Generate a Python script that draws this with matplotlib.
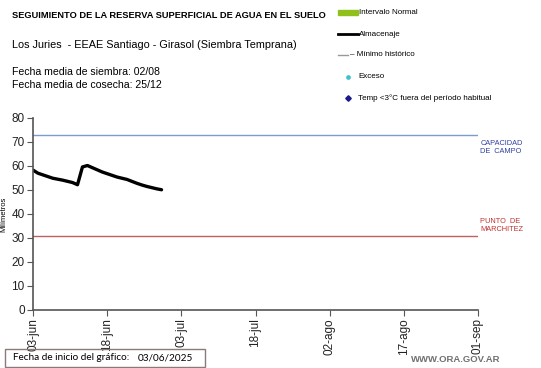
import numpy as np
import pandas as pd
import matplotlib
matplotlib.use("Agg")
import matplotlib.pyplot as plt
from matplotlib.lines import Line2D
from matplotlib.patches import Rectangle

plt.rcParams['font.family'] = ['Liberation Sans', 'DejaVu Sans']

# data
start = "2025-06-03"
almacenaje = [58.3, 57.0, 56.3, 55.6, 54.9, 54.5, 54.1, 53.6, 53.1, 52.2,
              59.6, 60.2, 59.3, 58.4, 57.5, 56.8, 56.1, 55.4, 54.9, 54.4,
              53.6, 52.8, 52.1, 51.5, 51.0, 50.5, 50.1]
capacidad_campo = 73
punto_marchitez = 31
tick_dates = ["2025-06-03", "2025-06-18", "2025-07-03", "2025-07-18",
              "2025-08-02", "2025-08-17", "2025-09-01"]
tick_labels = ["03-jun", "18-jun", "03-jul", "18-jul", "02-ago", "17-ago", "01-sep"]

dates = pd.date_range(start, periods=len(almacenaje), freq="D")
W, H = 541, 368
fig = plt.figure(figsize=(W / 100, H / 100), dpi=100)
ax = fig.add_axes([33 / W, 1 - 310 / H, (478 - 33) / W, (310 - 118) / H])

ax.axhline(capacidad_campo, color='#7f9ad0', lw=1)
ax.axhline(punto_marchitez, color='#c06060', lw=1)
ax.plot(dates, almacenaje, color='black', lw=2.4, solid_capstyle='round',
        solid_joinstyle='round')

ax.set_ylim(0, 80)
ax.set_yticks(range(0, 81, 10))
tks = pd.to_datetime(tick_dates)
ax.set_xlim(tks[0], tks[-1])
ax.set_xticks(tks)
ax.set_xticklabels(tick_labels, rotation=90)
for s in ['top', 'right']:
    ax.spines[s].set_visible(False)
for s in ['left', 'bottom']:
    ax.spines[s].set_color('#555555')
    ax.spines[s].set_linewidth(1.2)
ax.tick_params(direction='out', length=4, color='#555555', labelsize=8.5, pad=2,
               labelcolor='#222222')
ax.set_ylabel("Milímetros", fontsize=5.5)
ax.yaxis.set_label_coords(-26 / 445, 0.5)

ax.text(1.005, 71, "CAPACIDAD\nDE  CAMPO", transform=ax.get_yaxis_transform(),
        fontsize=5.3, color='#3040a0', va='top', ha='left', linespacing=1.35)
ax.text(1.005, 38.5, "PUNTO  DE\nMARCHITEZ", transform=ax.get_yaxis_transform(),
        fontsize=5.3, color='#c03030', va='top', ha='left', linespacing=1.35)

# header texts
fig.text(12 / W, 1 - 16 / H, "SEGUIMIENTO DE LA RESERVA SUPERFICIAL DE AGUA EN EL SUELO",
         fontsize=6.7, fontweight='bold', va='center')
fig.text(12 / W, 1 - 45 / H, "Los Juries  - EEAE Santiago - Girasol (Siembra Temprana)",
         fontsize=7.8, va='center')
fig.text(12 / W, 1 - 72 / H, "Fecha media de siembra: 02/08", fontsize=7.6, va='center')
fig.text(12 / W, 1 - 85 / H, "Fecha media de cosecha: 25/12", fontsize=7.6, va='center')

# legend
fig.patches.append(Rectangle((338 / W, 1 - 15 / H), 20 / W, 5 / H,
                             transform=fig.transFigure, color='#92c01a'))
fig.lines.append(Line2D([338 / W, 358 / W], [1 - 34 / H] * 2, transform=fig.transFigure,
                        color='black', lw=2))
fig.lines.append(Line2D([338 / W, 348 / W], [1 - 55 / H] * 2, transform=fig.transFigure,
                        color='#999999', lw=1))
fig.lines.append(Line2D([348 / W], [1 - 77 / H], transform=fig.transFigure,
                        color='#40c0d0', marker='o', ms=2.4, lw=0))
fig.lines.append(Line2D([348 / W], [1 - 98 / H], transform=fig.transFigure,
                        color='#1a1a8a', marker='D', ms=2.8, lw=0))
fig.text(359 / W, 1 - 12 / H, "Intervalo Normal", fontsize=5.8, va='center')
fig.text(359 / W, 1 - 34 / H, "Almacenaje", fontsize=5.8, va='center')
fig.text(350 / W, 1 - 55 / H, "– Mínimo histórico", fontsize=5.8, va='center')
fig.text(358 / W, 1 - 77 / H, "Exceso", fontsize=5.8, va='center')
fig.text(358 / W, 1 - 98 / H, "Temp <3°C fuera del período habitual", fontsize=5.8, va='center')

# footer
fig.patches.append(Rectangle((5 / W, 1 - 367 / H), 200 / W, 18 / H, transform=fig.transFigure,
                             fill=False, edgecolor='#8a7a7a', lw=1))
fig.text(13 / W, 1 - 358 / H, "Fecha de inicio del gráfico:", fontsize=7.2, va='center',
         family=['Lato', 'DejaVu Sans'])
fig.text(138 / W, 1 - 358 / H, "03/06/2025", fontsize=7.2, va='center',
         family=['Lato', 'DejaVu Sans'])
fig.text(500 / W, 1 - 360 / H, "WWW.ORA.GOV.AR", fontsize=6.8, fontweight='bold',
         color='#707070', va='center', ha='right')

fig.savefig("out.png", dpi=100)
